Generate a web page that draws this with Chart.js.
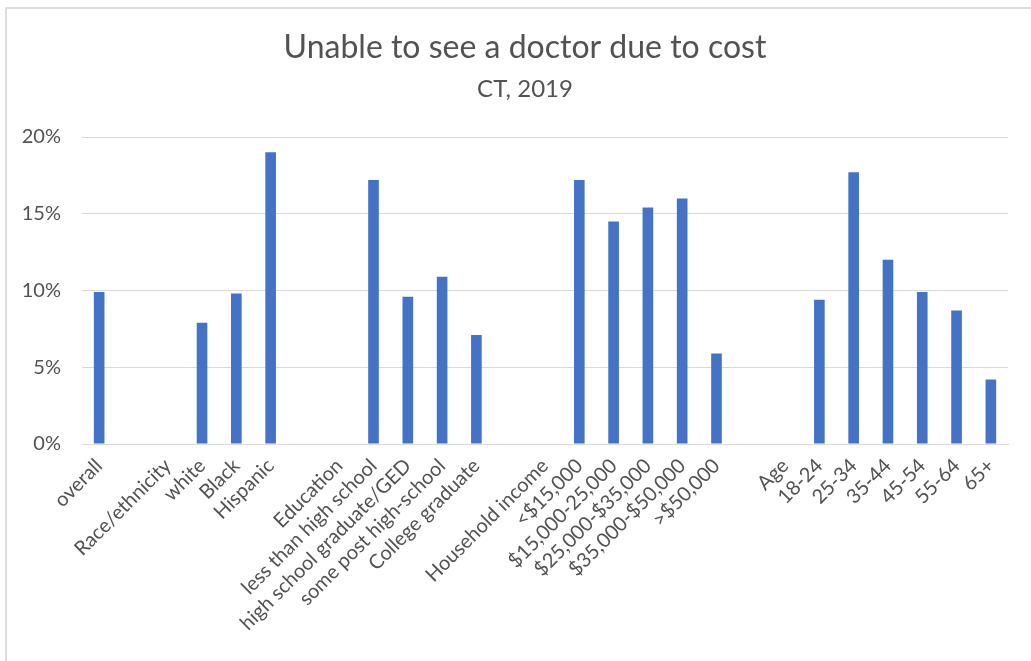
<!DOCTYPE html>
<html>
<head>
<meta charset="utf-8">
<script src="https://cdn.jsdelivr.net/npm/chart.js@4"></script>
<style>
  html, body { margin: 0; padding: 0; background: #fff; }
  .frame {
    position: absolute; left: 5px; top: 7px; right: 0; bottom: 0;
    border-left: 2px solid #dedede; border-top: 2px solid #dedede;
  }
  .wrap { position: absolute; left: 0; top: 0; width: 1031px; height: 661px; }
</style>
</head>
<body>
<div class="frame"></div>
<div class="wrap"><canvas id="myChart" width="1031" height="661"></canvas></div>
<script>
// group headings and empty slots have no value
const categories = [
  "overall", "", "Race/ethnicity", "white", "Black", "Hispanic",
  "", "Education", "less than high school", "high school graduate/GED",
  "some post high-school", "College graduate",
  "", "Household income", "<$15,000", "$15,000-25,000", "$25,000-$35,000",
  "$35,000-$50,000", ">$50,000",
  "", "Age", "18-24", "25-34", "35-44", "45-54", "55-64", "65+",
];
const percentUnable = [
  9.9, null, null, 7.9, 9.8, 19.0,
  null, null, 17.2, 9.6, 10.9, 7.1,
  null, null, 17.2, 14.5, 15.4, 16.0, 5.9,
  null, null, 9.4, 17.7, 12.0, 9.9, 8.7, 4.2,
];
const yTicks = [0, 5, 10, 15, 20];
const titleText = "Unable to see a doctor due to cost";
const subtitleText = "CT, 2019";

const textColor = "#525252";
const fontFamily = "Lato, 'Open Sans', sans-serif";

// title block sits a bit right of the plot centre, so draw it by hand
const titleBlock = {
  id: "titleBlock",
  afterDraw(chart) {
    const c = chart.ctx;
    c.save();
    c.fillStyle = textColor;
    c.textAlign = "center";
    c.textBaseline = "middle";
    c.font = "32px " + fontFamily;
    c.fillText(titleText, 525, 48);
    c.font = "24px " + fontFamily;
    c.fillText(subtitleText, 525, 89);
    c.restore();
  },
};

const ctx = document.getElementById("myChart").getContext("2d");
const myChart = new Chart(ctx, {
  type: "bar",
  data: {
    labels: categories,
    datasets: [
      {
        label: titleText,
        data: percentUnable,
        backgroundColor: "#4472C4",
        borderWidth: 0,
        barPercentage: 0.31,
        categoryPercentage: 1,
      },
    ],
  },
  plugins: [titleBlock],
  options: {
    responsive: false,
    animation: false,
    layout: {
      padding: { left: 0, right: 23, top: 137, bottom: 0 },
    },
    plugins: {
      legend: { display: false },
      tooltip: { enabled: false },
    },
    scales: {
      x: {
        grid: { display: false, drawTicks: false },
        border: { display: true, color: "#d9d9d9", width: 1 },
        ticks: {
          color: textColor,
          font: { family: fontFamily, size: 20 },
          autoSkip: false,
          minRotation: 45,
          maxRotation: 45,
          padding: 10,
        },
        afterFit: (scale) => {
          scale.height = 217;
        },
      },
      y: {
        min: 0,
        max: 20,
        afterBuildTicks: (scale) => {
          scale.ticks = yTicks.map((v) => ({ value: v }));
        },
        grid: { color: "#d9d9d9", drawTicks: false },
        border: { display: false },
        ticks: {
          color: textColor,
          font: { family: fontFamily, size: 20 },
          padding: 21,
          callback: (v) => v + "%",
        },
        afterFit: (scale) => {
          scale.width = 82;
        },
      },
    },
  },
});
</script>
</body>
</html>
